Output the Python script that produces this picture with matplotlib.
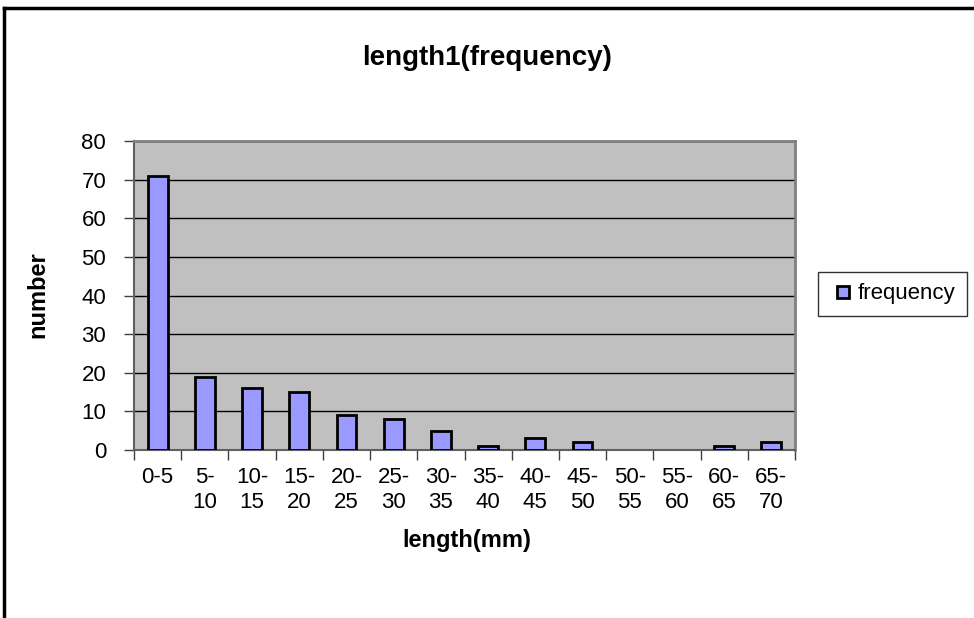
import matplotlib
matplotlib.use('Agg')
import matplotlib.pyplot as plt
from matplotlib.lines import Line2D
import numpy as np

plt.rcParams['font.family'] = ['Liberation Sans', 'DejaVu Sans']

# length bins and counts
bins = ['0-5', '5-\n10', '10-\n15', '15-\n20', '20-\n25', '25-\n30', '30-\n35',
        '35-\n40', '40-\n45', '45-\n50', '50-\n55', '55-\n60', '60-\n65', '65-\n70']
counts = [71, 19, 16, 15, 9, 8, 5, 1, 3, 2, 0, 0, 1, 2]
y_ticks = [0, 10, 20, 30, 40, 50, 60, 70, 80]

W, H = 974, 618
fig = plt.figure(figsize=(W / 100, H / 100), dpi=100)
ax = fig.add_axes([134 / W, 1 - 450 / H, 661 / W, 309 / H])

x = np.arange(len(counts))
ax.set_facecolor('#C0C0C0')
bars = ax.bar(x, counts, width=0.42, color='#9999FF', edgecolor='black', linewidth=2,
              zorder=3)
# empty bins show nothing at all
for b, c in zip(bars, counts):
    if c == 0:
        b.set_visible(False)

ax.set_xlim(-0.5, len(counts) - 0.5)
ax.set_ylim(0, 80)
ax.set_yticks(y_ticks)
ax.yaxis.grid(True, color='black', linewidth=1, zorder=1)
ax.set_axisbelow(True)

ax.set_xticks(x)
ax.set_xticklabels(bins, fontsize=16, va='top', linespacing=1.3)
ax.set_xticks(np.arange(len(counts) + 1) - 0.5, minor=True)
ax.tick_params(axis='x', which='major', length=0, pad=12)
ax.tick_params(axis='x', which='minor', length=7, width=1, color='#404040')
ax.tick_params(axis='y', labelsize=16, length=7, width=1, color='#404040', pad=13)

for side in ['top', 'right']:
    ax.spines[side].set_color('#808080')
    ax.spines[side].set_linewidth(2)
for side in ['left', 'bottom']:
    ax.spines[side].set_color('#606060')
    ax.spines[side].set_linewidth(1.5)

fig.text(467 / W, 1 - 540 / H, 'length(mm)', fontsize=17, fontweight='bold',
         ha='center', va='center')
fig.text(38 / W, 1 - 295 / H, 'number', fontsize=17, fontweight='bold',
         ha='center', va='center', rotation=90)
fig.text(487 / W, 1 - 58 / H, 'length1(frequency)', fontsize=20, fontweight='bold',
         ha='center', va='center')

# legend: small square swatch like Excel
swatch = Line2D([], [], marker='s', markersize=9, markerfacecolor='#9999FF',
                markeredgecolor='black', markeredgewidth=2, linestyle='None')
leg = ax.legend([swatch], ['frequency'], loc='center left',
                bbox_to_anchor=(818 / W, 1 - 294 / H),
                bbox_transform=fig.transFigure, fontsize=16, frameon=True,
                fancybox=False, edgecolor='black', handlelength=1.25,
                handletextpad=0.05, borderpad=0.5, borderaxespad=0)
leg.get_frame().set_linewidth(1)

# outer chart border (cut off at right and bottom)
fig.add_artist(Line2D([4 / W, 1.0], [1 - 8 / H, 1 - 8 / H], color='black', linewidth=2.5,
                      transform=fig.transFigure))
fig.add_artist(Line2D([4 / W, 4 / W], [1 - 8 / H, 0.0], color='black', linewidth=2.5,
                      transform=fig.transFigure))

fig.savefig('out.png', dpi=100)
